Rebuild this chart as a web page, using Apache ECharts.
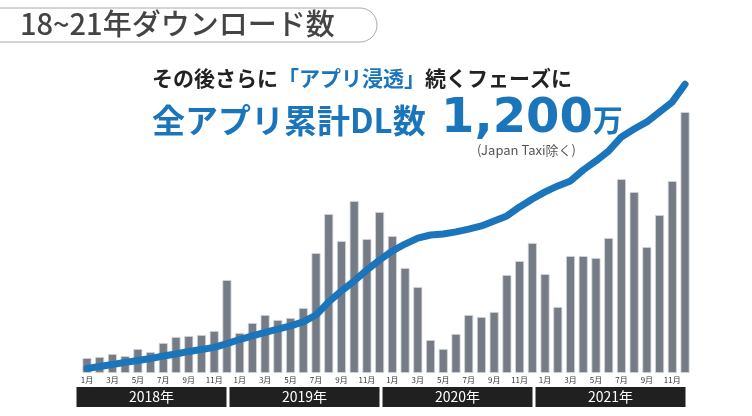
<!DOCTYPE html>
<html lang="ja">
<head>
  <meta charset="UTF-8">
  <title>18~21年ダウンロード数</title>
  <script src="https://cdn.jsdelivr.net/npm/echarts@6/dist/echarts.min.js"></script>
  <style>
    body { margin: 0; background: #ffffff; }
    #main { width: 752px; height: 416px; }
  </style>
</head>
<body>
  <div id="main"></div>
  <script>
    // 月次カテゴリ (2018年1月〜2021年12月)
    var years = ['2018年', '2019年', '2020年', '2021年'];
    var months = [];
    for (var y = 2018; y <= 2021; y++) {
      for (var m = 1; m <= 12; m++) months.push(y + '-' + m);
    }

    // 月間ダウンロード数 (相対値, 図から読み取り)
    var monthlyDL = [
      15, 16, 19, 17, 24, 21, 30, 36, 37, 38, 42, 93,
      40, 50, 58, 53, 55, 65, 120, 159, 132, 172, 134, 161,
      137, 105, 86, 33, 24, 39, 58, 56, 61, 98, 112, 130,
      99, 66, 117, 117, 115, 135, 194, 181, 126, 158, 192, 261
    ];

    // 全アプリ累計DL数 (万)
    var cumulativeDL = [
      6, 15, 23, 32, 40, 48, 59, 67, 78, 86, 95, 111,
      128, 143, 158, 172, 185, 202, 231, 286, 332, 374, 420, 462,
      500, 529, 554, 567, 571, 580, 592, 605, 626, 647, 685, 718,
      748, 773, 794, 840, 878, 920, 979, 1012, 1042, 1084, 1126, 1200
    ];

    var yearBand = [1, 1, 1, 1];

    var blue = '#1b75bb';
    var chart = echarts.init(document.getElementById('main'));

    var option = {
      backgroundColor: '#ffffff',
      animation: false,
      grid: [
        { left: 80.6, right: 60.6, top: 80, bottom: 43 },
        { left: 75, right: 65, top: 387, height: 20 }
      ],
      xAxis: [
        {
          type: 'category',
          gridIndex: 0,
          data: months,
          axisLine: { show: false },
          axisTick: { show: false },
          axisLabel: {
            interval: 1,
            margin: 3,
            fontSize: 8,
            color: '#333',
            fontFamily: 'Noto Sans CJK JP',
            formatter: function (v) { return v.split('-')[1] + '月'; }
          }
        },
        {
          type: 'category',
          gridIndex: 1,
          data: years,
          axisLine: { show: false },
          axisTick: { show: false },
          axisLabel: { show: false }
        }
      ],
      yAxis: [
        { type: 'value', gridIndex: 0, min: 0, max: 293, show: false },
        { type: 'value', gridIndex: 0, min: -12.6, max: 1218, show: false },
        { type: 'value', gridIndex: 1, min: 0, max: 1, show: false }
      ],
      series: [
        {
          type: 'bar',
          xAxisIndex: 0,
          yAxisIndex: 0,
          data: monthlyDL,
          barWidth: 9,
          itemStyle: { color: '#767c86', borderColor: '#d4d7db', borderWidth: 0.8 }
        },
        {
          type: 'line',
          xAxisIndex: 0,
          yAxisIndex: 1,
          data: cumulativeDL,
          symbol: 'none',
          z: 5,
          lineStyle: { color: blue, width: 7, cap: 'round', join: 'round' }
        },
        {
          type: 'bar',
          xAxisIndex: 1,
          yAxisIndex: 2,
          data: yearBand,
          barWidth: 150,
          itemStyle: { color: '#202020' },
          label: {
            show: true,
            position: 'inside',
            color: '#ffffff',
            fontSize: 14,
            fontFamily: 'Noto Sans CJK JP',
            formatter: function (p) { return p.name; }
          }
        }
      ],
      graphic: [
        {
          type: 'rect',
          shape: { x: -30, y: 8, width: 407, height: 34, r: 17 },
          style: { fill: 'none', stroke: '#a8a8a8', lineWidth: 1 }
        },
        {
          type: 'text',
          left: 20,
          top: 9,
          style: {
            text: '18~21年ダウンロード数',
            font: '500 29px "Noto Sans CJK JP"',
            fill: '#444444'
          }
        },
        {
          type: 'text',
          left: 152,
          top: 68,
          style: {
            text: '{k|その後さらに}{b|「アプリ浸透」}{k|続くフェーズに}',
            rich: {
              k: { font: 'bold 21px "Noto Sans CJK JP"', fill: '#222222' },
              b: { font: 'bold 21px "Noto Sans CJK JP"', fill: blue }
            }
          }
        },
        {
          type: 'text',
          left: 152,
          top: 104,
          style: {
            text: '全アプリ累計DL数',
            font: 'bold 33px "Noto Sans CJK JP"',
            fill: blue
          }
        },
        {
          type: 'text',
          left: 441,
          top: 96,
          style: {
            text: '{n|1,200}{u|万}',
            rich: {
              n: { font: 'bold 48px "DejaVu Sans"', fill: blue },
              u: { font: 'bold 30px "Noto Sans CJK JP"', fill: blue, verticalAlign: 'bottom', padding: [0, 0, 9, 0] }
            }
          }
        },
        {
          type: 'text',
          left: 477,
          top: 144,
          style: {
            text: '(Japan Taxi除く)',
            font: '13px "Noto Sans CJK JP"',
            fill: '#555555'
          }
        }
      ]
    };

    chart.setOption(option);
  </script>
</body>
</html>
